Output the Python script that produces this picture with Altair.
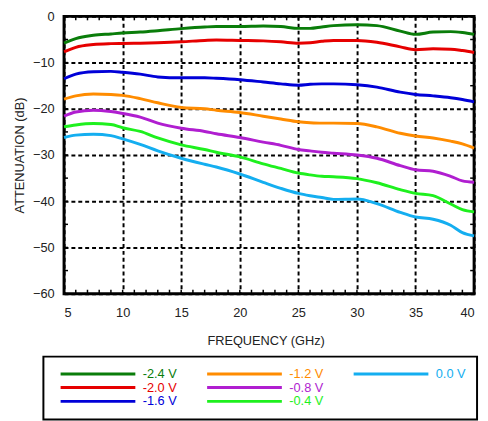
import altair as alt
import pandas as pd

# ---- data ----
freq = [5, 6, 7.5, 9, 10, 11.5, 13, 15, 17, 18, 20, 22, 23.5, 25, 26, 27, 28, 30,
        31.7, 33.7, 35, 36.5, 38, 39, 40]

att_m24 = [-5.8, -4.8, -4.1, -3.8, -3.6, -3.4, -3.1, -2.65, -2.3, -2.2, -2.2, -2.1, -2.2,
           -2.6, -2.6, -2.3, -2.0, -1.8, -2.0, -3.2, -3.9, -3.4, -3.3, -3.5, -3.9]
att_m20 = [-7.7, -6.7, -6.1, -5.9, -5.85, -5.8, -5.7, -5.5, -5.2, -5.1, -5.2, -5.3, -5.5,
           -5.8, -5.7, -5.4, -5.2, -5.2, -5.6, -6.6, -7.2, -7.0, -7.1, -7.4, -7.8]
att_m16 = [-13.5, -12.5, -12.0, -11.9, -12.1, -12.5, -13.1, -13.3, -13.3, -13.4, -13.7, -14.2,
           -14.6, -14.9, -14.7, -14.6, -14.6, -14.8, -15.3, -16.4, -16.9, -17.2, -17.6, -18.0, -18.5]
att_m12 = [-17.9, -17.2, -16.8, -16.9, -17.1, -17.8, -18.7, -19.7, -20.0, -20.3, -20.8, -21.6,
           -22.2, -22.8, -23.0, -23.1, -23.1, -23.2, -23.9, -25.3, -25.9, -26.3, -27.0, -27.6, -28.5]
att_m08 = [-21.6, -20.7, -20.3, -20.6, -21.0, -21.8, -23.1, -24.2, -24.9, -25.4, -26.2, -27.2,
           -27.9, -28.8, -29.1, -29.4, -29.6, -30.0, -30.7, -32.3, -33.2, -33.5, -34.6, -35.6, -35.9]
att_m04 = [-23.9, -23.5, -23.2, -23.4, -24.1, -24.9, -26.3, -27.8, -28.8, -29.4, -30.4, -31.9,
           -32.9, -33.9, -34.3, -34.6, -34.7, -35.1, -36.0, -37.5, -38.3, -38.8, -40.6, -41.8, -42.3]
att_00 = [-26.2, -25.7, -25.5, -25.8, -26.5, -27.7, -29.1, -30.7, -32.0, -32.6, -34.1, -35.9,
          -37.2, -38.3, -38.8, -39.2, -39.6, -39.5, -40.5, -42.4, -43.4, -43.9, -45.2, -46.8, -47.5]

series_labels = ['-2.4 V', '-2.0 V', '-1.6 V', '-1.2 V', '-0.8 V', '-0.4 V', '0.0 V']
series_colors = ['#0a7d0a', '#e60000', '#0000d8', '#ff8c00', '#b01ed0', '#1ef01e', '#14aef0']
series_values = [att_m24, att_m20, att_m16, att_m12, att_m08, att_m04, att_00]

x_major = [5, 10, 15, 20, 25, 30, 35, 40]
y_major = [-60, -50, -40, -30, -20, -10, 0]
x_minor = [5, 6, 7, 8, 9, 10, 11, 12, 13, 14, 15, 16, 17, 18, 19, 20, 21, 22, 23, 24,
           25, 26, 27, 28, 29, 30, 31, 32, 33, 34, 35, 36, 37, 38, 39, 40]
y_minor = [-60, -55, -50, -45, -40, -35, -30, -25, -20, -15, -10, -5, 0]

# ---- build tables ----
rows = []
for order, (lab, vals) in enumerate(zip(series_labels, series_values)):
    for f, v in zip(freq, vals):
        rows.append({'freq': f, 'att': v, 'bias': lab, 'order': order})
df = pd.DataFrame(rows)

# an empty 8th legend slot keeps the third legend column to a single entry
blank_slot = ' ' * 11
legend_domain = series_labels + [blank_slot]
legend_range = series_colors + ['transparent']

W, H = 417, 282
FONT = 'Liberation Sans'
x_scale = alt.Scale(domain=[5, 40], nice=False, zero=False)
y_scale = alt.Scale(domain=[-60, 0], nice=False, zero=False)

lines = alt.Chart(df).mark_line(strokeWidth=3, interpolate='monotone').encode(
    x=alt.X('freq:Q', scale=x_scale,
            axis=alt.Axis(values=x_major, title='FREQUENCY (GHz)', grid=True,
                          labelPadding=13, titleX=205, titleY=48,
                          titleBaseline='middle', titleAlign='center')),
    y=alt.Y('att:Q', scale=y_scale,
            axis=alt.Axis(values=y_major, title='ATTENUATION (dB)', grid=True,
                          labelPadding=10, titleX=-45, titleY=H / 2, titleAngle=-90,
                          titleBaseline='middle', titleAlign='center')),
    color=alt.Color('bias:N',
                    scale=alt.Scale(domain=legend_domain, range=legend_range),
                    legend=alt.Legend(
                        title=None, orient='none', legendX=-21, legendY=346,
                        columns=3, symbolType='M0,0H20', symbolSize=57.76,
                        symbolStrokeWidth=3, labelFont=FONT, labelFontSize=13,
                        labelOffset=77, columnPadding=24, rowPadding=0, padding=11,
                        strokeColor='black',
                        labelColor=alt.ExprRef("scale('color', datum.value)"))),
    order='order:Q'
)

tick_style = dict(color='black', strokeWidth=1.5)
xt = pd.DataFrame({'freq': x_minor})
yt = pd.DataFrame({'att': y_minor})
bottom_ticks = alt.Chart(xt).mark_rule(**tick_style).encode(
    x=alt.X('freq:Q', scale=x_scale, axis=None), y=alt.value(H), y2=alt.value(H - 4))
top_ticks = alt.Chart(xt).mark_rule(**tick_style).encode(
    x=alt.X('freq:Q', scale=x_scale, axis=None), y=alt.value(0), y2=alt.value(4))
left_ticks = alt.Chart(yt).mark_rule(**tick_style).encode(
    y=alt.Y('att:Q', scale=y_scale, axis=None), x=alt.value(0), x2=alt.value(4))
right_ticks = alt.Chart(yt).mark_rule(**tick_style).encode(
    y=alt.Y('att:Q', scale=y_scale, axis=None), x=alt.value(W), x2=alt.value(W - 4))

chart = alt.layer(lines, bottom_ticks, top_ticks, left_ticks, right_ticks).resolve_axis(
    x='independent', y='independent'
).properties(
    width=W, height=H,
    autosize=alt.AutoSizeParams(type='none'),
    padding={'left': 57, 'top': 5, 'right': 6, 'bottom': 128},
).configure_view(
    stroke='black', strokeWidth=3
).configure_axis(
    labelFont=FONT, labelFontSize=13, labelColor='#222',
    titleFont=FONT, titleFontSize=13, titleFontWeight='normal', titleColor='#222',
    gridColor='black', gridDash=[4, 3], gridWidth=2, gridOpacity=1,
    domain=False, ticks=False
).configure_legend(
    strokeWidth=2
)

chart.save('out.html', embed_options={'renderer': 'svg', 'actions': False})
